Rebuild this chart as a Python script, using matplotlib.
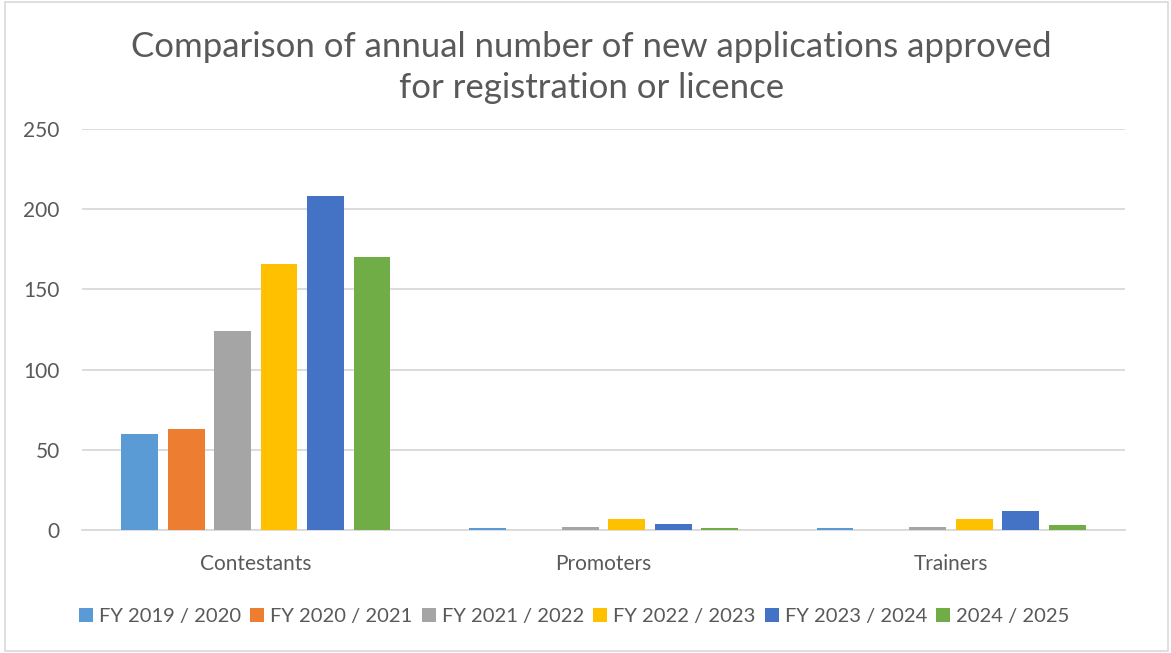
import matplotlib
matplotlib.use("Agg")
import matplotlib.pyplot as plt
import numpy as np
from matplotlib.patches import Rectangle

categories = ["Contestants", "Promoters", "Trainers"]
series = ["FY 2019 / 2020", "FY 2020 / 2021", "FY 2021 / 2022",
          "FY 2022 / 2023", "FY 2023 / 2024", "2024 / 2025"]
fy_2019_20 = [60, 1, 1]
fy_2020_21 = [63, 0, 0]
fy_2021_22 = [124, 2, 2]
fy_2022_23 = [166, 7, 7]
fy_2023_24 = [208, 4, 12]
fy_2024_25 = [170, 1, 3]
yticks = [0, 50, 100, 150, 200, 250]

COLORS = ["#5b9bd5", "#ed7d31", "#a5a5a5", "#ffc000", "#4472c4", "#70ad47"]
TEXT = "#595959"
GRID = "#d9d9d9"

plt.rcParams["font.family"] = ["Lato", "DejaVu Sans"]

fig = plt.figure(figsize=(11.71, 6.53), dpi=100)
ax = fig.add_axes([0.070, 0.1884, 0.8907, 0.6141])

values = [fy_2019_20, fy_2020_21, fy_2021_22, fy_2022_23, fy_2023_24, fy_2024_25]
x = np.arange(len(categories))
pitch = 0.1336
width = 0.106
for j, (name, vals) in enumerate(zip(series, values)):
    ax.bar(x + (j - 2.5) * pitch, vals, width, color=COLORS[j], label=name,
           zorder=3)

ax.set_xlim(-0.5, len(categories) - 0.5)
ax.set_ylim(0, 250)
ax.set_yticks(yticks)
ax.set_xticks(x)
ax.set_xticklabels(categories)
ax.tick_params(axis="both", length=0, labelsize=15, labelcolor=TEXT)
ax.tick_params(axis="x", pad=17)
ax.tick_params(axis="y", pad=16)
ax.grid(axis="y", color=GRID, linewidth=1.3, zorder=0)
for side in ("top", "right", "left"):
    ax.spines[side].set_visible(False)
ax.spines["bottom"].set_color(GRID)
ax.spines["bottom"].set_linewidth(1.3)

fig.suptitle("Comparison of annual number of new applications approved\nfor registration or licence",
             x=0.505, y=0.952, fontsize=25, color=TEXT, linespacing=1.32)

ax.legend(loc="center", bbox_to_anchor=(0.472, -0.216), ncol=6, frameon=False,
          fontsize=14.5, labelcolor=TEXT, handlelength=0.7, handleheight=0.7,
          handletextpad=0.3, columnspacing=0.45)

# thin chart border
fig.patches.append(Rectangle((5 / 1171, 2 / 653), 1163 / 1171, 649 / 653,
                             transform=fig.transFigure, fill=False,
                             edgecolor=GRID, linewidth=1.2))

fig.savefig("out.png")
